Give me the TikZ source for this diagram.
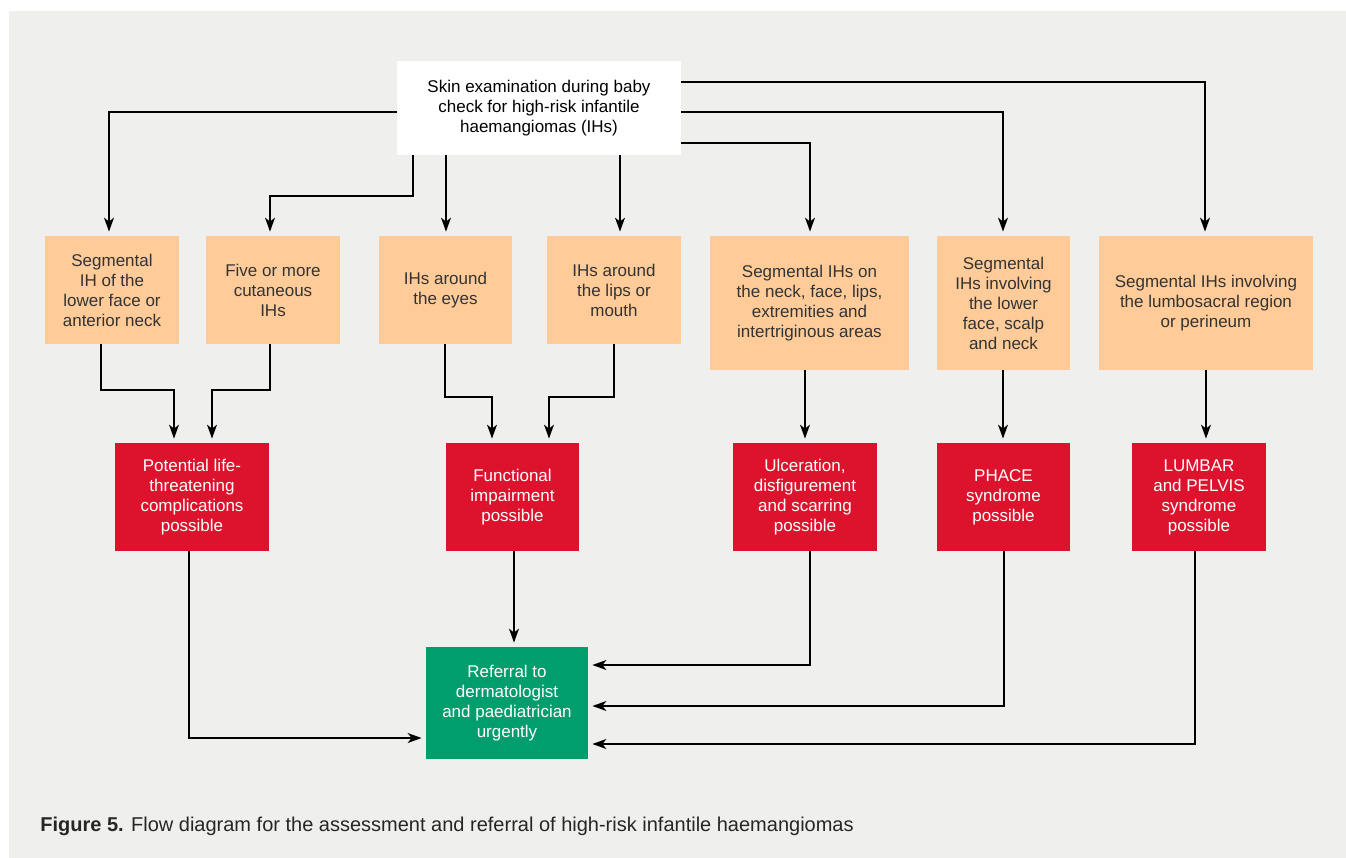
\documentclass[tikz,border=0pt]{standalone}
\usepackage{fontspec}
\setmainfont{Liberation Sans}
\usetikzlibrary{arrows.meta}
\definecolor{panelgray}{RGB}{239,239,237}
\definecolor{peach}{RGB}{255,204,153}
\definecolor{alertred}{RGB}{221,19,45}
\definecolor{refergreen}{RGB}{0,158,108}
\begin{document}
\begin{tikzpicture}[x=0.5pt, y=-0.5pt,
    box/.style={inner sep=0pt, align=center, font=\fontsize{8.5}{10}\selectfont},
    riskbox/.style={box, fill=peach, text=black!80},
    outcome/.style={box, fill=alertred, text=white, minimum height=54pt},
    arr/.style={-{Stealth[length=7pt, width=5pt, inset=2pt]}, line width=0.65pt, shorten >=2pt}]
    \useasboundingbox (0,0) rectangle (1346,858);
    \fill[panelgray] (9,11) rectangle (1346,858);
    % starting point
    \node[box, fill=white, minimum width=142pt, minimum height=47pt] (exam) at (539,108) {Skin examination during baby\\check for high-risk infantile\\haemangiomas (IHs)};
    % high-risk presentations
    \node[riskbox, minimum width=67pt, minimum height=54pt] (seg1) at (112,290) {Segmental\\IH of the\\lower face or\\anterior neck};
    \node[riskbox, minimum width=67pt, minimum height=54pt] (five) at (273,290) {Five or more\\cutaneous\\IHs};
    \node[riskbox, minimum width=66.5pt, minimum height=54pt] (eyes) at (445.5,290) {IHs around\\the eyes};
    \node[riskbox, minimum width=67pt, minimum height=54pt] (lips) at (614,290) {IHs around\\the lips or\\mouth};
    \node[riskbox, minimum width=99.5pt, minimum height=67pt] (neck) at (809.5,303) {Segmental IHs on\\the neck, face, lips,\\extremities and\\intertriginous areas};
    \node[riskbox, minimum width=66.5pt, minimum height=67pt] (lowface) at (1003.5,303) {Segmental\\IHs involving\\the lower\\face, scalp\\and neck};
    \node[riskbox, minimum width=107pt, minimum height=67pt] (lumbo) at (1206,303) {Segmental IHs involving\\the lumbosacral region\\or perineum};
    % possible outcomes
    \node[outcome, minimum width=77pt] (life) at (192,497) {Potential life-\\threatening\\complications\\possible};
    \node[outcome, minimum width=66.5pt] (func) at (512.5,497) {Functional\\impairment\\possible};
    \node[outcome, minimum width=72pt] (ulcer) at (805,497) {Ulceration,\\disfigurement\\and scarring\\possible};
    \node[outcome, minimum width=66.5pt] (phace) at (1003.5,497) {PHACE\\syndrome\\possible};
    \node[outcome, minimum width=67pt] (lumbar) at (1199,497) {LUMBAR\\and PELVIS\\syndrome\\possible};
    % referral
    \node[box, fill=refergreen, text=white, minimum width=81pt, minimum height=56pt] (refer) at (507,703) {Referral to\\dermatologist\\and paediatrician\\urgently};
    % arrows from the examination
    \draw[arr] (exam.west |- 0,112) -| (seg1.north -| 109,0);
    \draw[arr] (exam.south -| 413,0) |- (270,196) -- (five.north -| 270,0);
    \draw[arr] (exam.south -| 446,0) -- (eyes.north -| 446,0);
    \draw[arr] (exam.south -| 620,0) -- (lips.north -| 620,0);
    \draw[arr] (exam.east |- 0,82) -| (lumbo.north -| 1205,0);
    \draw[arr] (exam.east |- 0,112) -| (lowface.north -| 1003,0);
    \draw[arr] (exam.east |- 0,143) -| (neck.north -| 810,0);
    % arrows to the outcomes
    \draw[arr] (seg1.south -| 101,0) |- (174,390) -- (life.north -| 174,0);
    \draw[arr] (five.south -| 270,0) |- (212,390) -- (life.north -| 212,0);
    \draw[arr] (eyes.south -| 445,0) |- (492,397) -- (func.north -| 492,0);
    \draw[arr] (lips.south -| 614,0) |- (549,397) -- (func.north -| 549,0);
    \draw[arr] (neck.south -| 805,0) -- (ulcer.north -| 805,0);
    \draw[arr] (lowface.south -| 1003,0) -- (phace.north -| 1003,0);
    \draw[arr] (lumbo.south -| 1206,0) -- (lumbar.north -| 1206,0);
    % arrows to the referral
    \draw[arr] (life.south -| 189,0) |- (refer.west |- 0,738);
    \draw[arr] (func.south -| 514,0) -- (refer.north -| 514,0);
    \draw[arr] (ulcer.south -| 810,0) |- (refer.east |- 0,665);
    \draw[arr] (phace.south -| 1004,0) |- (refer.east |- 0,706);
    \draw[arr] (lumbar.south -| 1195,0) |- (refer.east |- 0,744);
    % caption
    \node[anchor=west, inner sep=0pt, font=\fontsize{10}{12}\selectfont, text=black!85] (caption) at (40,826) {\textbf{Figure 5.} Flow diagram for the assessment and referral of high-risk infantile haemangiomas};
\end{tikzpicture}
\end{document}
